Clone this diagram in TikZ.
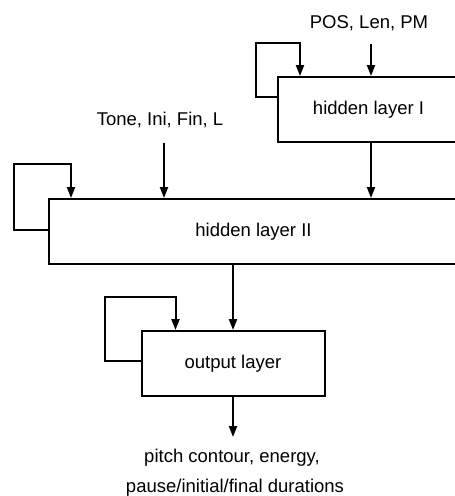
\documentclass[tikz,border=0pt]{standalone}
\usepackage{fontspec}
\setmainfont{Liberation Sans}
\usetikzlibrary{arrows.meta}
\begin{document}
\begin{tikzpicture}[x=1pt,y=-1pt,
  layer/.style={draw,line width=2pt,rectangle,inner sep=0pt,font=\fontsize{18.5}{21}\selectfont},
  arr/.style={line width=2pt,-{Triangle[length=11pt,width=8pt]}},
  lbl/.style={font=\fontsize{18.5}{21}\selectfont,inner sep=0pt,anchor=base}]
\useasboundingbox (0,0) rectangle (455,496);
\clip (0,0) rectangle (455,496);
% layers
\node[layer,minimum width=181pt,minimum height=65pt] (h1) at (368.5,109.5) {hidden layer I};
\node[layer,minimum width=409pt,minimum height=65pt] (h2) at (253.5,231.5) {hidden layer II};
\node[layer,minimum width=183pt,minimum height=65pt] (out) at (233,363.5) {output layer};
% labels
\node[lbl] (lin1) at (369,28) {POS, Len, PM};
\node[lbl] (lin2) at (160,125) {Tone, Ini, Fin, L};
\node[lbl] (lout1) at (232,462) {pitch contour, energy,};
\node[lbl] (lout2) at (235,492) {pause/initial/final durations};
% coordinates
\coordinate (c1) at (256,43);
\coordinate (c2) at (14,164);
\coordinate (c3) at (105,297);
\coordinate (in1) at (371,44);
\coordinate (in2) at (164,143);
\coordinate (o) at (233,437);
% recurrent loops
\draw[arr] ([yshift=-21pt]h1.north west) -| (c1) -| ([xshift=23pt]h1.north west);
\draw[arr] ([yshift=-32pt]h2.north west) -| (c2) -| ([xshift=23pt]h2.north west);
\draw[arr] ([yshift=-31pt]out.north west) -| (c3) -| ([xshift=35pt]out.north west);
% inputs
\draw[arr] (in1) -- (in1 |- h1.north);
\draw[arr] (in2) -- (in2 |- h2.north);
% flow
\draw[arr] (h1.south -| in1) -- (h2.north -| in1);
\draw[arr] (out.north |- h2.south) -- (out.north);
\draw[arr] (out.south) -- (o);
\end{tikzpicture}
\end{document}
